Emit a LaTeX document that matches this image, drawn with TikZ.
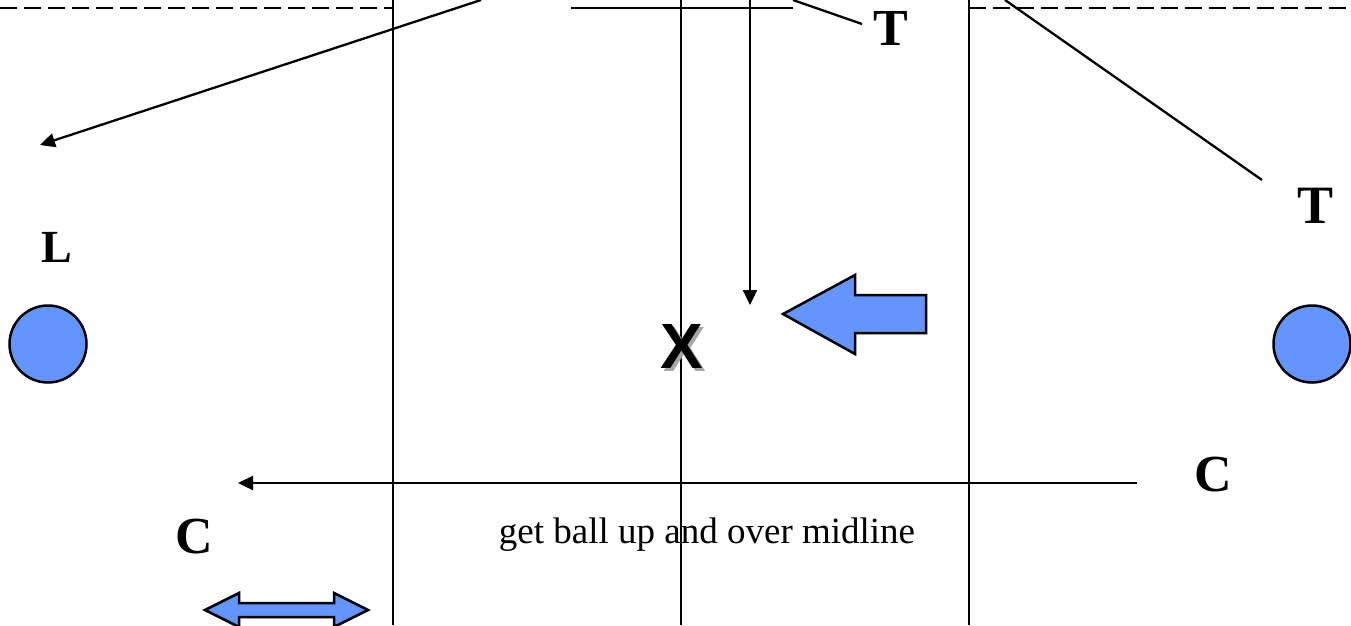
\documentclass[tikz,border=0pt]{standalone}
\usepackage{fontspec}
\setmainfont{Liberation Serif}
\newfontfamily\sansbold{Liberation Sans}
\usetikzlibrary{arrows.meta}
\definecolor{ballblue}{RGB}{100,149,255}

\begin{document}
\begin{tikzpicture}[x=1pt, y=-1pt, line width=2.3pt,
  lbl/.style={font=\fontsize{52}{52}\selectfont\bfseries, anchor=base, inner sep=0pt},
  ball/.style={draw, fill=ballblue, line width=2.5pt},
  pass/.style={-{Triangle[length=15pt,width=14pt]}}]
\def\lx{393}
\def\mx{681}
\def\rx{969}
\def\ty{8}

\useasboundingbox (0,0) rectangle (1351,625);

% court lines
\draw (\lx,0) -- (\lx,625);
\draw (\mx,0) -- (\mx,625);
\draw (\rx,0) -- (\rx,625);
\draw[dash pattern=on 17pt off 7pt] (0,\ty) -- (\lx,\ty);
\draw (571,\ty) -- (793,\ty);
\draw[dash pattern=on 17pt off 7pt] (\rx,\ty) -- (1351,\ty);

% players
\node[lbl] (t1) at (891,45) {T};
\node[lbl, font=\fontsize{54}{54}\selectfont\bfseries] (t2) at (1315,223) {T};
\node[lbl, font=\fontsize{46}{46}\selectfont\bfseries] (l1) at (57,262) {L};
\node[lbl] (c1) at (1213,491) {C};
\node[lbl] (c2) at (194,553) {C};
\node[ball, circle, minimum size=77pt, inner sep=0pt] (lball) at (48,344) {};
\node[ball, circle, minimum size=77pt, inner sep=0pt] (rball) at (1312,344) {};

\node[anchor=base, inner sep=0pt, font=\fontsize{64}{64}\selectfont\sansbold\bfseries] (xmark) at (682,368)
  {\rlap{\kern3pt\raisebox{-3pt}{\color{gray!70}X}}X};

\node[anchor=base, inner sep=0pt, font=\fontsize{37}{37}\selectfont] (note) at (707,543) {get ball up and over midline};

% passes and runs
\coordinate (a1) at (481,0);
\coordinate (a2) at (40,145);
\coordinate (b1) at (750,0);
\coordinate (b2) at (750,305);
\coordinate (d1) at (793,0);
\coordinate (d2) at (862,24);
\coordinate (e1) at (1005,0);
\coordinate (e2) at (1262,180);
\coordinate (f1) at (1137,483);
\coordinate (f2) at (238,483);

\draw[pass] (a1) -- (a2);
\draw[pass] (b1) -- (b2);
\draw (d1) -- (d2);
\draw (e1) -- (e2);
\draw[pass] (f1) -- (f2);

% block arrows
\draw[ball] (783,314) -- (855,275) -- (855,295) -- (926,295) -- (926,333)
  -- (855,333) -- (855,354) -- cycle;
\draw[ball] (205,610) -- (239,593) -- (239,603) -- (334,603) -- (334,593)
  -- (368,610) -- (334,627) -- (334,617) -- (239,617) -- (239,627) -- cycle;
\end{tikzpicture}
\end{document}
